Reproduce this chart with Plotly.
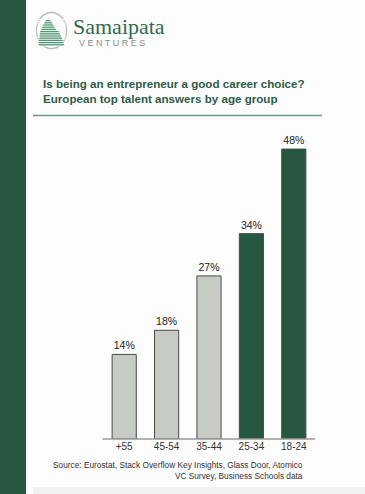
import plotly.graph_objects as go

categories = ["+55", "45-54", "35-44", "25-34", "18-24"]
values = [14, 18, 27, 34, 48]
labels = ["14%", "18%", "27%", "34%", "48%"]
bar_colors = ["#c6cbc4", "#c6cbc4", "#c6cbc4", "#255741", "#255741"]

W, H = 365, 494
L, R, T, B = 103, 50, 137, 55
PW, PH = W - L - R, H - T - B


def px(x):
    return (x - L) / PW


def py(y):
    return (H - B - y) / PH


fig = go.Figure(go.Bar(
    x=categories, y=values, text=labels, textposition="outside",
    marker=dict(color=bar_colors, line=dict(color="#4a4a4a", width=1)),
    textfont=dict(size=10.5, color="#222222", family="Liberation Sans"),
    cliponaxis=False, width=0.57, hoverinfo="skip",
))

shapes = []
# left green band
shapes.append(dict(type="rect", xref="paper", yref="paper", x0=px(0), x1=px(26), y0=py(494), y1=py(0),
                   fillcolor="#255741", line=dict(width=0), layer="below"))
# bottom light gray band
shapes.append(dict(type="rect", xref="paper", yref="paper", x0=px(33), x1=px(365), y0=py(494), y1=py(487),
                   fillcolor="#f1f1f1", line=dict(width=0), layer="below"))
# horizontal rule under title
shapes.append(dict(type="line", xref="paper", yref="paper", x0=px(33), x1=px(322), y0=py(115.5), y1=py(115.5),
                   line=dict(color="#6f9c86", width=1.5)))
# baseline axis
shapes.append(dict(type="line", xref="paper", yref="paper", x0=px(102.5), x1=px(315), y0=py(439), y1=py(439),
                   line=dict(color="#9a9a9a", width=1.5)))
# logo: ellipse
shapes.append(dict(type="circle", xref="paper", yref="paper", x0=px(36.5), x1=px(66.5), y0=py(48.5), y1=py(12.5),
                   line=dict(color="#b9bdbb", width=1.5), fillcolor="white"))
# logo: mountain
mx = [38.5, 40, 43, 46, 48.5, 51, 55, 56.5, 58.5, 62, 64.5]
my = [46, 32, 25, 20, 18.5, 21, 28, 30.5, 31, 38, 46]
path = "M " + " L ".join(f"{px(a)},{py(b)}" for a, b in zip(mx, my)) + " Z"
shapes.append(dict(type="path", xref="paper", yref="paper", path=path,
                   fillcolor="#4f9474", line=dict(width=0)))
# stripes over mountain
yy = 19.5
while yy < 47:
    shapes.append(dict(type="line", xref="paper", yref="paper", x0=px(37), x1=px(66), y0=py(yy), y1=py(yy),
                       line=dict(color="white", width=0.9)))
    yy += 2.2

annotations = [
    dict(text="Samaipata", xref="paper", yref="paper", x=px(71), y=py(26.5), xanchor="left", yanchor="middle",
         showarrow=False, font=dict(family="Liberation Serif", size=22, color="#2f6b50")),
    dict(text="V E N T U R E S", xref="paper", yref="paper", x=px(77), y=py(42.5), xanchor="left", yanchor="middle",
         showarrow=False, font=dict(family="Liberation Sans", size=9, color="#8a8f8c")),
    dict(text="<b>Is being an entrepreneur a good career choice?<br>European top talent answers by age group</b>",
         xref="paper", yref="paper", x=px(41), y=py(91), xanchor="left", yanchor="middle", align="left",
         showarrow=False, font=dict(family="Liberation Sans", size=11.6, color="#2d5b45")),
    dict(text="Source: Eurostat, Stack Overflow Key Insights, Glass Door, Atomico<br>VC Survey, Business Schools data",
         xref="paper", yref="paper", x=px(305), y=py(470.5), xanchor="right", yanchor="middle", align="right",
         showarrow=False, font=dict(family="Liberation Sans", size=8.3, color="#333333")),
]

fig.update_layout(
    width=W, height=H, margin=dict(l=L, r=R, t=T, b=B),
    paper_bgcolor="#fdfdfd", plot_bgcolor="rgba(0,0,0,0)",
    showlegend=False, bargap=0.43,
    xaxis=dict(showgrid=False, showline=False, ticks="", zeroline=False,
               tickfont=dict(family="Liberation Sans", size=10, color="#333333")),
    yaxis=dict(range=[0, 50], visible=False),
    shapes=shapes, annotations=annotations,
)

fig.write_html("out.html", config={"displayModeBar": False},
               post_script="document.body.style.margin='0';")
